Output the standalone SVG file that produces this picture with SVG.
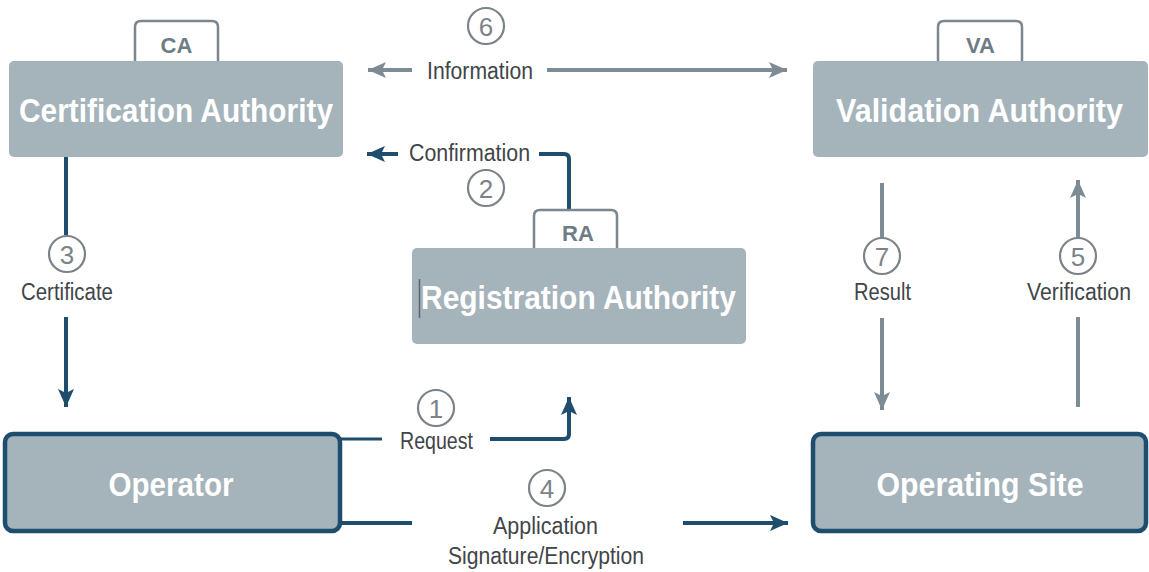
<svg xmlns="http://www.w3.org/2000/svg" width="1149" height="572" viewBox="0 0 1149 572">
<defs>
<style>
.box{fill:#a5b3bb;}
.opbox{fill:#a5b3bb;stroke:#1e4d6d;stroke-width:4.5;}
.tab{fill:#ffffff;stroke:#7b878e;stroke-width:2.5;}
.title{font-family:"Liberation Sans",Arial,sans-serif;font-weight:bold;font-size:34px;fill:#ffffff;text-anchor:middle;}
.tabt{font-family:"Liberation Sans",Arial,sans-serif;font-weight:bold;font-size:22px;fill:#6e7c84;text-anchor:middle;}
.lbl{font-family:"Liberation Sans",Arial,sans-serif;font-size:23px;fill:#3f4548;text-anchor:middle;}
.num{font-family:"Liberation Sans",Arial,sans-serif;font-size:26px;fill:#7b8388;text-anchor:middle;}
.circ{fill:#ffffff;stroke:#7b8388;stroke-width:2.2;}
.blue{fill:none;stroke:#1e4d6d;stroke-width:4;}
.gray{fill:none;stroke:#7d8b94;stroke-width:4;}
</style>
<marker id="ab" markerUnits="userSpaceOnUse" markerWidth="20" markerHeight="18" refX="18" refY="8" orient="auto" viewBox="0 0 20 16">
<path d="M0,0 L18,8 L0,16 L4,8 z" fill="#1e4d6d"/>
</marker>
<marker id="ag" markerUnits="userSpaceOnUse" markerWidth="20" markerHeight="18" refX="18" refY="8" orient="auto" viewBox="0 0 20 16">
<path d="M0,0 L18,8 L0,16 L4,8 z" fill="#7d8b94"/>
</marker>
</defs>
<rect width="1149" height="572" fill="#ffffff"/>

<g id="connectors">
<!-- 6 Information -->
<line class="gray" x1="412" y1="70" x2="368" y2="70" marker-end="url(#ag)"/>
<line class="gray" x1="547" y1="70" x2="787" y2="70" marker-end="url(#ag)"/>
<!-- 2 Confirmation -->
<line class="blue" x1="398" y1="154" x2="367" y2="154" marker-end="url(#ab)"/>
<path class="blue" d="M539,154 H564 Q569,154 569,159 V209"/>
<!-- 3 Certificate -->
<line class="blue" x1="66" y1="157" x2="66" y2="235"/>
<line class="blue" x1="66" y1="317" x2="66" y2="407" marker-end="url(#ab)"/>
<!-- 1 Request -->
<line class="blue" x1="340" y1="439" x2="382" y2="439" style="stroke-width:3"/>
<path class="blue" d="M490,439 H564 Q569,439 569,434 V397" marker-end="url(#ab)"/>
<!-- 4 Application -->
<line class="blue" x1="340" y1="523" x2="412" y2="523"/>
<line class="blue" x1="683" y1="523" x2="788" y2="523" marker-end="url(#ab)"/>
<!-- 7 Result -->
<line class="gray" x1="882" y1="183" x2="882" y2="237"/>
<line class="gray" x1="882" y1="318" x2="882" y2="410" marker-end="url(#ag)"/>
<!-- 5 Verification -->
<line class="gray" x1="1078" y1="407" x2="1078" y2="317"/>
<line class="gray" x1="1078" y1="237" x2="1078" y2="180" marker-end="url(#ag)"/>

<!-- labels -->
<circle class="circ" cx="486" cy="26" r="18"/>
<text class="num" x="486" y="36">6</text>
<text class="lbl" x="480" y="79" textLength="106" lengthAdjust="spacingAndGlyphs">Information</text>

<circle class="circ" cx="486" cy="188" r="18"/>
<text class="num" x="486" y="198">2</text>
<text class="lbl" x="469.5" y="161" textLength="121" lengthAdjust="spacingAndGlyphs">Confirmation</text>

<circle class="circ" cx="67" cy="254" r="18"/>
<text class="num" x="67" y="264">3</text>
<text class="lbl" x="67" y="300" textLength="92" lengthAdjust="spacingAndGlyphs">Certificate</text>

<circle class="circ" cx="436" cy="408" r="18"/>
<text class="num" x="436" y="418">1</text>
<text class="lbl" x="436.5" y="449" textLength="73" lengthAdjust="spacingAndGlyphs">Request</text>

<circle class="circ" cx="547" cy="488" r="18"/>
<text class="num" x="547" y="498">4</text>
<text class="lbl" x="545.5" y="534" textLength="105" lengthAdjust="spacingAndGlyphs">Application</text>
<text class="lbl" x="546" y="564" textLength="196" lengthAdjust="spacingAndGlyphs">Signature/Encryption</text>

<circle class="circ" cx="882" cy="256" r="18"/>
<text class="num" x="882" y="266">7</text>
<text class="lbl" x="882.5" y="300" textLength="57" lengthAdjust="spacingAndGlyphs">Result</text>

<circle class="circ" cx="1078" cy="256" r="18"/>
<text class="num" x="1078" y="266">5</text>
<text class="lbl" x="1079" y="300" textLength="104" lengthAdjust="spacingAndGlyphs">Verification</text>
</g>

<g id="ca">
<path class="tab" d="M135,62 V27 Q135,21 141,21 H212 Q218,21 218,27 V62"/>
<text class="tabt" x="176.5" y="53">CA</text>
<rect class="box" x="9" y="61" width="334" height="96" rx="5"/>
<text class="title" x="176" y="122" textLength="314" lengthAdjust="spacingAndGlyphs">Certification Authority</text>
</g>

<g id="va">
<path class="tab" d="M938,62 V27 Q938,21 944,21 H1016 Q1022,21 1022,27 V62"/>
<text class="tabt" x="980.5" y="53">VA</text>
<rect class="box" x="813" y="61" width="335" height="96" rx="5"/>
<text class="title" x="979.5" y="122" textLength="287" lengthAdjust="spacingAndGlyphs">Validation Authority</text>
</g>

<g id="ra">
<path class="tab" d="M534,249 V216 Q534,210 540,210 H611 Q617,210 617,216 V249"/>
<text class="tabt" x="578" y="241">RA</text>
<rect class="box" x="412" y="248" width="334" height="96" rx="5"/>
<line x1="419.5" y1="279" x2="419.5" y2="318" stroke="#5a646a" stroke-width="1.5"/>
<text class="title" x="578.5" y="309" textLength="315" lengthAdjust="spacingAndGlyphs">Registration Authority</text>
</g>

<g id="operator">
<rect class="opbox" x="5" y="434" width="335" height="97" rx="8"/>
<text class="title" x="171" y="496" textLength="125" lengthAdjust="spacingAndGlyphs">Operator</text>
</g>

<g id="operating-site">
<rect class="opbox" x="813" y="434" width="333" height="97" rx="8"/>
<text class="title" x="980" y="496" textLength="207" lengthAdjust="spacingAndGlyphs">Operating Site</text>
</g>
</svg>
